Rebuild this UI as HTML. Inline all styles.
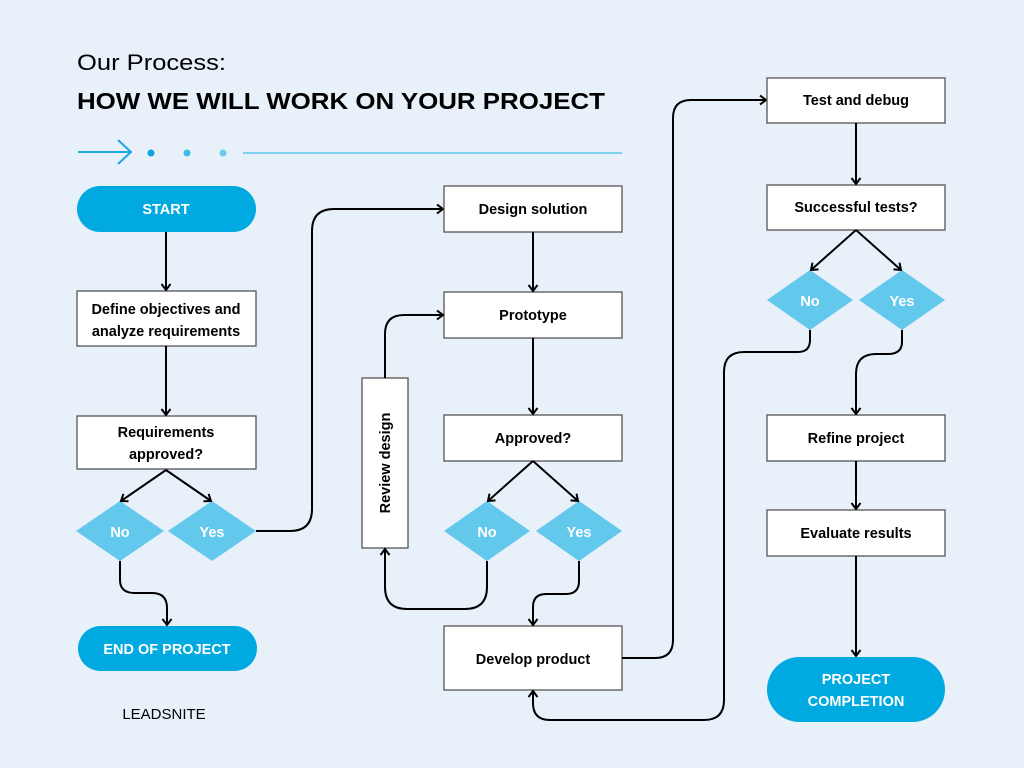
<!DOCTYPE html>
<html><head><meta charset="utf-8"><style>
html,body{margin:0;padding:0;background:#e8f0fa;}
svg{display:block;}
text{font-family:"Liberation Sans",sans-serif;}
.b{fill:#fff;stroke:#555;stroke-width:1.3;}
.t{font-size:14.5px;font-weight:bold;fill:#000;text-anchor:middle;}
.w{font-size:14.5px;font-weight:bold;fill:#fff;text-anchor:middle;}
.d{fill:#62c8ec;}
.l{fill:none;stroke:#000;stroke-width:2;}
</style></head><body>
<svg width="1024" height="768" viewBox="0 0 1024 768" xmlns="http://www.w3.org/2000/svg">
<defs><marker id="a" markerWidth="12" markerHeight="12" refX="9" refY="6" orient="auto" markerUnits="userSpaceOnUse"><polyline points="3,1.5 9,6 3,10.5" fill="none" stroke="#000" stroke-width="2"/></marker></defs>
<rect width="1024" height="768" fill="#e8f0fa"/>
<text x="77" y="70" font-size="22" fill="#000" textLength="149" lengthAdjust="spacingAndGlyphs">Our Process:</text>
<text x="77" y="109" font-size="23" font-weight="bold" fill="#000" textLength="528" lengthAdjust="spacingAndGlyphs">HOW WE WILL WORK ON YOUR PROJECT</text>
<line x1="78" y1="152" x2="131" y2="152" stroke="#1fa8e0" stroke-width="2"/>
<polyline points="118,140 131,152 118,164" fill="none" stroke="#1fa8e0" stroke-width="2"/>
<circle cx="151" cy="153" r="3.5" fill="#10a3e0"/><circle cx="187" cy="153" r="3.5" fill="#40b8ea"/><circle cx="223" cy="153" r="3.5" fill="#6dcaef"/>
<line x1="243" y1="153" x2="622" y2="153" stroke="#7dd0f0" stroke-width="2"/>

<rect x="77" y="186" width="179" height="46" rx="23" fill="#00a9e0"/>
<text class="w" x="166" y="214">START</text>
<rect class="b" x="77" y="291" width="179" height="55"/>
<text class="t" x="166" y="314">Define objectives and</text>
<text class="t" x="166" y="336">analyze requirements</text>
<rect class="b" x="77" y="416" width="179" height="53"/>
<text class="t" x="166" y="437">Requirements</text>
<text class="t" x="166" y="459">approved?</text>
<polygon class="d" points="76,531 120,501 164,531 120,561"/><text class="w" x="120" y="537">No</text>
<polygon class="d" points="168,531 212,501 256,531 212,561"/><text class="w" x="212" y="537">Yes</text>
<rect x="78" y="626" width="179" height="45" rx="22.5" fill="#00a9e0"/>
<text class="w" x="167" y="654">END OF PROJECT</text>
<text x="164" y="719" font-size="15" fill="#000" text-anchor="middle">LEADSNITE</text>
<path class="l" d="M166,232 V290" marker-end="url(#a)"/>
<path class="l" d="M166,346 V415" marker-end="url(#a)"/>
<path class="l" d="M166,470 L121,501" marker-end="url(#a)"/>
<path class="l" d="M166,470 L211,501" marker-end="url(#a)"/>
<path class="l" d="M120,561 V580 Q120,593 135,593 H152 Q167,593 167,608 V625" marker-end="url(#a)"/>
<path class="l" d="M256,531 H290 Q312,531 312,509 V231 Q312,209 334,209 H443" marker-end="url(#a)"/>

<rect class="b" x="444" y="186" width="178" height="46"/><text class="t" x="533" y="214">Design solution</text>
<rect class="b" x="444" y="292" width="178" height="46"/><text class="t" x="533" y="320">Prototype</text>
<rect class="b" x="444" y="415" width="178" height="46"/><text class="t" x="533" y="443">Approved?</text>
<polygon class="d" points="444,531 487,501 530,531 487,561"/><text class="w" x="487" y="537">No</text>
<polygon class="d" points="536,531 579,501 622,531 579,561"/><text class="w" x="579" y="537">Yes</text>
<rect class="b" x="362" y="378" width="46" height="170"/>
<text class="t" transform="translate(390,463) rotate(-90)">Review design</text>
<rect class="b" x="444" y="626" width="178" height="64"/><text class="t" x="533" y="664">Develop product</text>
<path class="l" d="M533,232 V291" marker-end="url(#a)"/>
<path class="l" d="M533,338 V414" marker-end="url(#a)"/>
<path class="l" d="M533,461 L488,501" marker-end="url(#a)"/>
<path class="l" d="M533,461 L578,501" marker-end="url(#a)"/>
<path class="l" d="M487,561 V587 Q487,609 465,609 H407 Q385,609 385,587 V549" marker-end="url(#a)"/>
<path class="l" d="M385,378 V334 Q385,315 404,315 H443" marker-end="url(#a)"/>
<path class="l" d="M579,561 V581 Q579,594 566,594 H546 Q533,594 533,607 V625" marker-end="url(#a)"/>
<path class="l" d="M622,658 H655 Q673,658 673,640 V118 Q673,100 691,100 H766" marker-end="url(#a)"/>
<path class="l" d="M810,330 V340 Q810,352 798,352 H744 Q724,352 724,372 V700 Q724,720 704,720 H550 Q533,720 533,703 V691" marker-end="url(#a)"/>

<rect class="b" x="767" y="78" width="178" height="45"/><text class="t" x="856" y="105">Test and debug</text>
<rect class="b" x="767" y="185" width="178" height="45"/><text class="t" x="856" y="212">Successful tests?</text>
<polygon class="d" points="767,300 810,270 853,300 810,330"/><text class="w" x="810" y="306">No</text>
<polygon class="d" points="859,300 902,270 945,300 902,330"/><text class="w" x="902" y="306">Yes</text>
<rect class="b" x="767" y="415" width="178" height="46"/><text class="t" x="856" y="443">Refine project</text>
<rect class="b" x="767" y="510" width="178" height="46"/><text class="t" x="856" y="538">Evaluate results</text>
<rect x="767" y="657" width="178" height="65" rx="32.5" fill="#00a9e0"/>
<text class="w" x="856" y="684">PROJECT</text><text class="w" x="856" y="706">COMPLETION</text>
<path class="l" d="M856,123 V184" marker-end="url(#a)"/>
<path class="l" d="M856,230 L811,270" marker-end="url(#a)"/>
<path class="l" d="M856,230 L901,270" marker-end="url(#a)"/>
<path class="l" d="M902,330 V342 Q902,354 888,354 H876 Q856,354 856,374 V414" marker-end="url(#a)"/>
<path class="l" d="M856,461 V509" marker-end="url(#a)"/>
<path class="l" d="M856,556 V656" marker-end="url(#a)"/>
</svg>
</body></html>
